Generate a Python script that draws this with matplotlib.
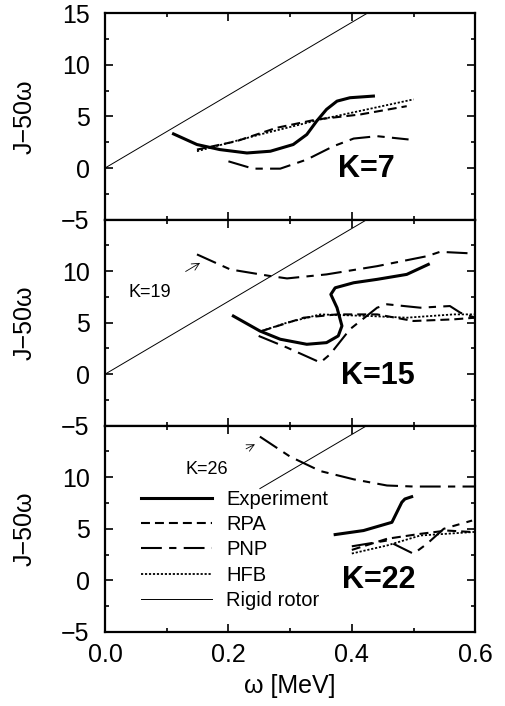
import matplotlib
matplotlib.use("Agg")
import matplotlib.pyplot as plt
from matplotlib.ticker import MultipleLocator

plt.rcParams['font.family'] = ['Liberation Sans', 'DejaVu Sans']

# rigid rotor reference line (end points)
rigid_w = [0.0, 0.6]
rigid_j = [0.0, 21.2]
# visible part of it in the K=22 panel (rest hidden under the legend)
rigid22_w = [0.251, 0.6]
rigid22_j = [8.9, 21.2]

# K=7
exp7_w = [0.111, 0.149, 0.186, 0.230, 0.268, 0.305, 0.327, 0.343, 0.359, 0.376, 0.397, 0.435]
exp7_j = [3.31, 2.28, 1.79, 1.46, 1.63, 2.28, 3.25, 4.55, 5.69, 6.49, 6.82, 6.98]
rpa7_w = [0.149, 0.213, 0.278, 0.343, 0.414, 0.489]
rpa7_j = [1.79, 2.6, 3.9, 4.71, 5.2, 6.0]
pnp7_w = [0.2, 0.240, 0.284, 0.327, 0.370, 0.403, 0.441, 0.492]
pnp7_j = [0.65, -0.06, -0.06, 0.82, 2.11, 2.86, 3.09, 2.77]
hfb7_w = [0.149, 0.251, 0.349, 0.5]
hfb7_j = [1.63, 3.25, 4.71, 6.66]

# K=15 (and K=19 branch)
exp15_w = [0.208, 0.251, 0.284, 0.327, 0.359, 0.378, 0.384, 0.376, 0.366, 0.373, 0.403, 0.441, 0.489, 0.524]
exp15_j = [5.64, 4.19, 3.39, 2.9, 3.06, 3.71, 4.68, 6.45, 7.74, 8.38, 8.87, 9.2, 9.68, 10.65]
rpa15_w = [0.254, 0.322, 0.376, 0.441, 0.5, 0.565, 0.6]
rpa15_j = [4.19, 5.48, 5.8, 5.8, 5.16, 5.32, 5.48]
pnp15_w = [0.249, 0.295, 0.349, 0.365, 0.397, 0.441, 0.457, 0.511, 0.559, 0.576, 0.6]
pnp15_j = [3.71, 2.58, 1.13, 1.94, 4.36, 6.45, 6.78, 6.45, 6.61, 5.96, 5.48]
hfb15_w = [0.254, 0.295, 0.349, 0.43, 0.489, 0.565, 0.6]
hfb15_j = [4.19, 5.0, 5.8, 5.64, 5.48, 5.8, 5.8]
pnp19_w = [0.149, 0.203, 0.268, 0.295, 0.359, 0.441, 0.522, 0.543, 0.6]
pnp19_j = [11.62, 10.16, 9.52, 9.29, 9.68, 10.48, 11.45, 11.87, 11.7]

# K=22 (and K=26 branch)
exp22_w = [0.373, 0.419, 0.465, 0.481, 0.486, 0.497]
exp22_j = [4.44, 4.83, 5.63, 7.57, 7.89, 8.11]
rpa22_w = [0.4, 0.457, 0.511, 0.554, 0.6]
rpa22_j = [2.95, 4.03, 4.51, 4.83, 4.67]
pnp22_w = [0.4, 0.457, 0.473, 0.5, 0.522, 0.549, 0.595]
pnp22_j = [3.3, 3.86, 3.38, 2.58, 3.55, 5.0, 5.8]
hfb22_w = [0.4, 0.457, 0.511, 0.6]
hfb22_j = [2.6, 3.38, 4.35, 4.7]
pnp26_w = [0.251, 0.30, 0.349, 0.403, 0.457, 0.5, 0.6]
pnp26_j = [13.94, 12.0, 10.6, 9.8, 9.2, 9.1, 9.1]

ytick_vals = [-5, 0, 5, 10, 15]
ytick_top = ['\u22125', '0', '5', '10', '15']
ytick_rest = ['\u22125', '0', '5', '10', '']

EXP = dict(color='black', lw=2.2, ls='-')
RPA = dict(color='black', lw=1.5, ls=(0, (4.3, 2.4)))
PNP = dict(color='black', lw=1.5, ls=(0, (10.0, 3.5, 3.5, 3.5)))
HFB = dict(color='black', lw=1.3, ls=(0, (1.2, 1.0)))
RIG = dict(color='black', lw=0.7, ls='-')

fig = plt.figure(figsize=(5.05, 7.06), dpi=100)
gs = fig.add_gridspec(3, 1, left=0.208, right=0.941, top=0.981, bottom=0.105, hspace=0)
axes = [fig.add_subplot(gs[i]) for i in range(3)]

panels = [
    (exp7_w, exp7_j, rpa7_w, rpa7_j, pnp7_w, pnp7_j, hfb7_w, hfb7_j, 'K=7', 0.424, -0.05),
    (exp15_w, exp15_j, rpa15_w, rpa15_j, pnp15_w, pnp15_j, hfb15_w, hfb15_j, 'K=15', 0.443, -0.2),
    (exp22_w, exp22_j, rpa22_w, rpa22_j, pnp22_w, pnp22_j, hfb22_w, hfb22_j, 'K=22', 0.443, 0.0),
]

for i, (ax, p) in enumerate(zip(axes, panels)):
    ew, ej, rw, rj, pw, pj, hw, hj, klab, kx, ky = p
    if i < 2:
        ax.plot(rigid_w, rigid_j, **RIG)
    else:
        ax.plot(rigid22_w, rigid22_j, **RIG)
    ax.plot(hw, hj, **HFB)
    ax.plot(rw, rj, **RPA)
    ax.plot(pw, pj, **PNP)
    ax.plot(ew, ej, **EXP)
    ax.text(kx, ky, klab, fontsize=22, fontweight='bold', ha='center', va='center')

    ax.set_xlim(0, 0.6)
    ax.set_ylim(-5, 15)
    ax.set_yticks(ytick_vals)
    ax.set_yticklabels(ytick_top if i == 0 else ytick_rest)
    ax.yaxis.set_minor_locator(MultipleLocator(2.5))
    ax.xaxis.set_major_locator(MultipleLocator(0.2))
    ax.xaxis.set_minor_locator(MultipleLocator(0.1))
    ax.xaxis.set_major_formatter(plt.FormatStrFormatter('%.1f'))
    ax.tick_params(which='both', direction='in', top=True, right=True, width=1.2)
    ax.tick_params(which='major', length=6, labelsize=18)
    ax.tick_params(axis='y', which='major', pad=11)
    ax.tick_params(axis='x', which='major', pad=8)
    ax.tick_params(which='minor', length=3)
    for s in ax.spines.values():
        s.set_linewidth(1.6)
    ax.set_ylabel('J\u221250\u03c9', fontsize=18)
    ax.yaxis.set_label_coords(-0.185, 0.5)
    if i < 2:
        ax.tick_params(labelbottom=False)

axes[2].set_xlabel('\u03c9 [MeV]', fontsize=18, labelpad=5)

axes[1].plot(pnp19_w, pnp19_j, **PNP)
axes[1].annotate('K=19', xy=(0.154, 10.8), xytext=(0.073, 7.9), fontsize=13,
                 ha='center', va='center',
                 arrowprops=dict(arrowstyle='->', lw=0.6, color='black', shrinkA=14, shrinkB=0))
axes[2].plot(pnp26_w, pnp26_j, **PNP)
axes[2].annotate('K=26', xy=(0.243, 13.2), xytext=(0.165, 10.8), fontsize=13,
                 ha='center', va='center',
                 arrowprops=dict(arrowstyle='->', lw=0.6, color='black', shrinkA=14, shrinkB=0))

# legend built from the same styles
names = ['Experiment', 'RPA', 'PNP', 'HFB', 'Rigid rotor']
styles = [EXP, RPA, PNP, HFB, RIG]
handles = [plt.Line2D([], [], **s) for s in styles]
axes[2].legend(handles, names, loc='upper left',
               bbox_to_anchor=(0.09, 0.705), fontsize=14.5, frameon=False,
               handlelength=3.5, handletextpad=0.7, labelspacing=0.32,
               borderpad=0.15, borderaxespad=0)

fig.savefig('out.png', dpi=100)
